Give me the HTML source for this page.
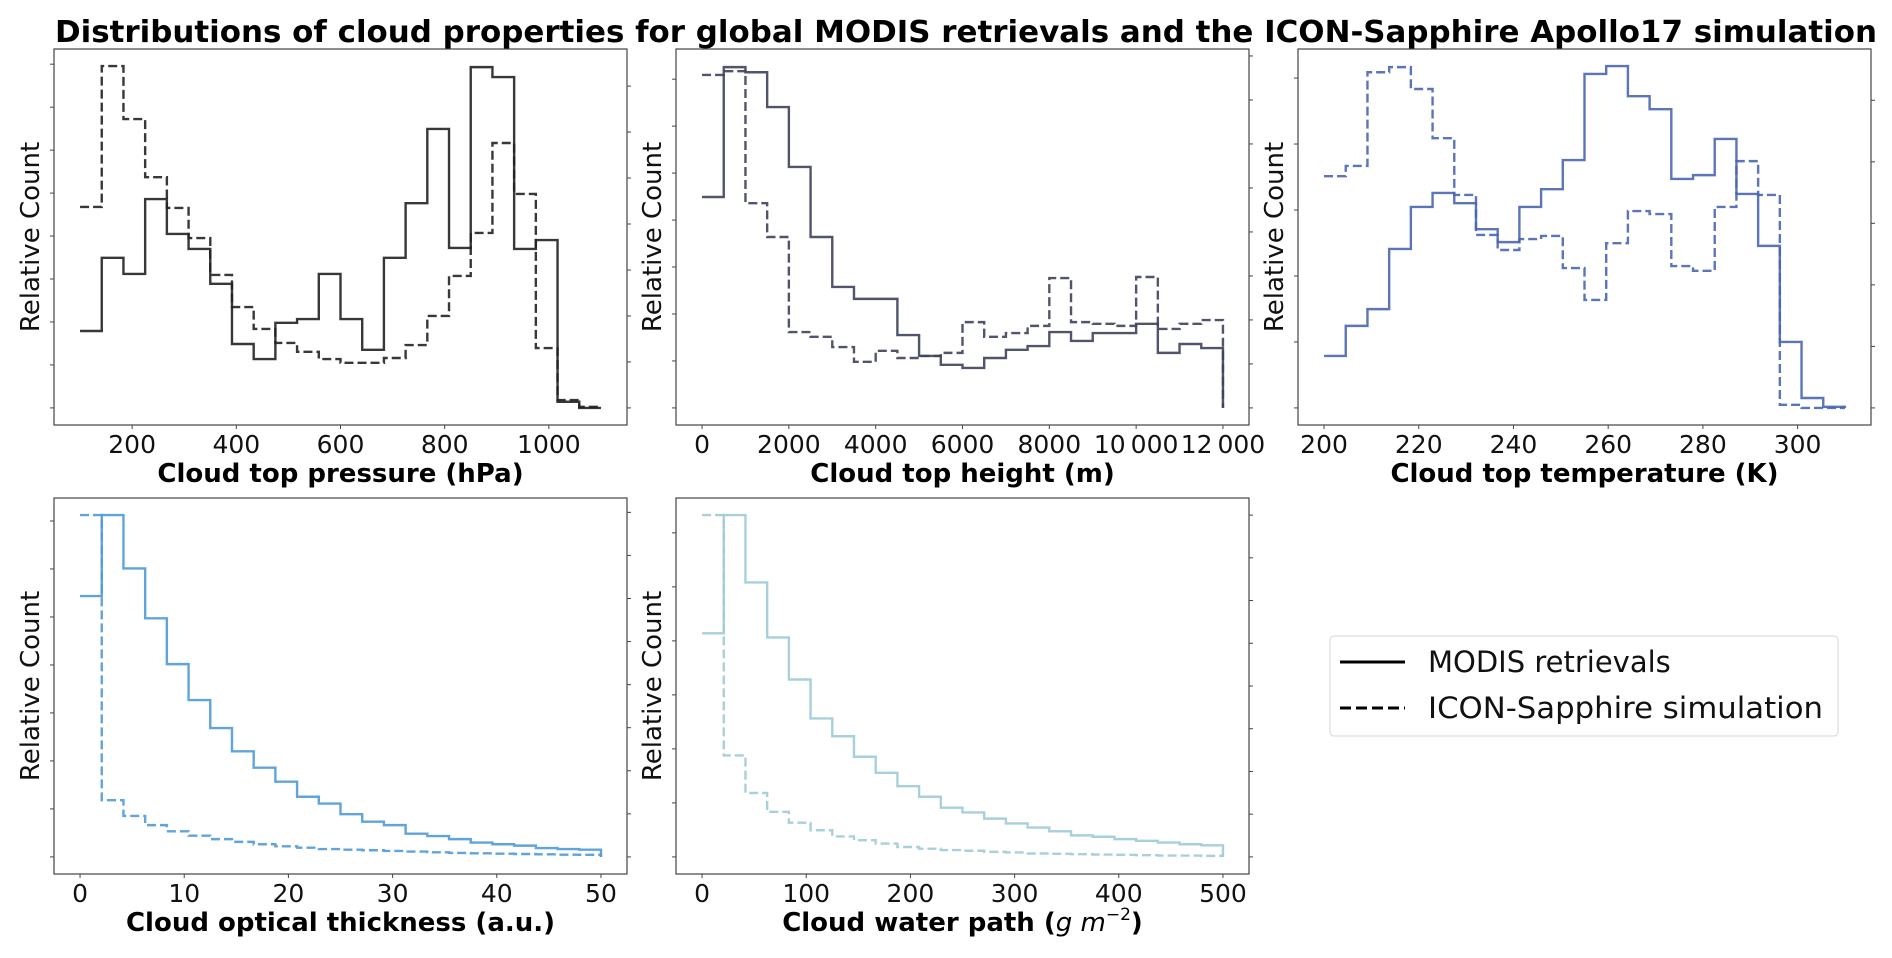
<!DOCTYPE html>
<html><head><meta charset="utf-8"><style>
html,body{margin:0;padding:0;background:#fff;}
svg{display:block;font-family:"DejaVu Sans","Liberation Sans",sans-serif;}
</style></head>
<body>
<svg id="fig" width="1892" height="958" viewBox="0 0 1892 958" xmlns="http://www.w3.org/2000/svg">
<text x="966" y="42" text-anchor="middle" font-size="30" font-weight="bold" textLength="1822" lengthAdjust="spacingAndGlyphs" fill="#000">Distributions of cloud properties for global MODIS retrievals and the ICON-Sapphire Apollo17 simulation</text>
<g>
<rect x="1330" y="636" width="508" height="100" rx="4" fill="#fff" stroke="#ddd" stroke-width="1.2"/>
<line x1="1340" y1="662" x2="1405" y2="662" stroke="#000" stroke-width="3"/>
<text x="1428" y="672" font-size="29" fill="#111">MODIS retrievals</text>
<line x1="1340" y1="708" x2="1405" y2="708" stroke="#000" stroke-width="3" stroke-dasharray="11,5"/>
<text x="1428" y="718" font-size="29" fill="#111" textLength="395" lengthAdjust="spacingAndGlyphs">ICON-Sapphire simulation</text>
</g>
</svg>
<script>
// ---- data (relative counts, 0-100, per histogram) ----
const ctpEdges = [100, 1100];
const ctpModis = [22.5,43.9,39.2,61.1,50.9,46.5,36.3,18.7,14.3,24.9,26.0,39.2,26.0,17.0,43.9,59.9,81.6,46.8,99.7,96.8,46.5,49.1,1.8,0];
const ctpIcon = [58.8,100,84.5,67.5,58.5,49.7,38.9,29.5,23.1,19.0,16.4,14.3,13.2,13.2,14.6,18.4,26.9,38.6,51.2,77.5,62.6,17.5,2.3,0.3];
const ctpTicks = [200,400,600,800,1000];

const cthEdges = [0, 12000];
const cthModis = [61.7,99.7,98.2,88.0,70.5,50.0,35.4,31.9,31.9,21.3,15.2,12.6,11.7,14.6,17.0,18.1,22.2,19.6,21.9,21.9,24.6,16.1,18.7,17.5];
const cthIcon = [97.4,98.5,59.9,50.0,22.2,20.8,17.8,13.5,16.7,14.6,15.2,16.1,25.1,20.8,21.9,24.0,38.0,25.1,24.6,24.0,38.3,23.1,24.6,25.7];
const cthTicks = [0,2000,4000,6000,8000,10000,12000];

const cttEdges = [200, 310];
const cttModis = [15.2,24.0,28.9,46.5,58.8,62.9,59.9,52.3,48.5,58.8,64.0,72.5,97.7,100,91.2,87.4,67.0,68.1,78.7,62.6,47.4,19.3,2.9,0.3];
const cttIcon = [67.8,70.8,98.2,99.7,93.3,78.9,62.3,50.6,46.2,49.4,50.3,40.9,31.6,48.2,57.6,56.7,41.5,40.1,58.8,72.2,62.3,0.9,0,0];
const cttTicks = [200,220,240,260,280,300];

const cotEdges = [0, 50];
const cotModis = [76.3,100,84.4,69.8,56.4,45.9,37.7,30.9,26.1,22.0,17.6,15.6,12.5,10.3,9.3,6.8,6.1,5.2,4.2,3.7,3.3,2.6,2.3,2.1];
const cotIcon = [100,16.6,12.0,9.3,7.5,6.2,5.2,4.4,3.7,3.1,2.7,2.3,2.1,1.95,1.75,1.55,1.35,1.15,1.05,0.95,0.85,0.75,0.65,0.6];
const cotTicks = [0,10,20,30,40,50];

const cwpEdges = [0, 500];
const cwpModis = [65.4,100,80.3,64.2,51.9,40.5,35.3,29.3,24.6,20.7,17.6,14.4,13.0,11.2,9.8,8.6,7.5,6.3,5.9,5.2,4.7,4.2,3.7,3.4];
const cwpIcon = [100,29.7,18.7,13.2,10.0,7.8,6.0,4.9,3.9,2.9,2.4,2.0,1.8,1.5,1.3,1.0,0.9,0.8,0.7,0.6,0.5,0.4,0.4,0.3];
const cwpTicks = [0,100,200,300,400,500];

// y tick spacing (relative units) for left and right axes
const leftTickSteps = [12.57, 13.74, 19.3, 14.04, 15.8];
const leftTickCounts = [9, 8, 6, 8, 7];
const rightTickSteps = [13.45, 12.87, 18.0, 12.6, 12.5];
const rightTickCounts = [8, 9, 6, 9, 9];

const NS = 'http://www.w3.org/2000/svg';
const svg = document.getElementById('fig');
function mk(tag, attrs, parent) {
  const e = document.createElementNS(NS, tag);
  for (const k in attrs) e.setAttribute(k, attrs[k]);
  (parent || svg).appendChild(e);
  return e;
}
const W = 573, H = 376;
function fmt(v) { return v >= 10000 ? String(v).replace(/(\d+)(\d{3})$/, '$1\u2009$2') : String(v); }

function panel(i, left, top, edges, modis, icon, ticks, color, xlabel, key) {
  const g = mk('g', {});
  
  
  const span = edges[1] - edges[0];
  const d0 = edges[0] - 0.05 * span, d1 = edges[1] + 0.05 * span;
  const X = v => left + (v - d0) / (d1 - d0) * W;
  const y0 = top + H - H * 0.05 / 1.1, yMax = top + H * 0.05 / 1.1;
  const Y = v => y0 - v / 100 * (y0 - yMax);
  const frame = mk('rect', {x: left, y: top, width: W, height: H, fill: 'none', stroke: '#444', 'stroke-width': 1.2}, g);
  
  
  for (let k = 0; k < leftTickCounts[i]; k++) {
    const yy = Y(k * leftTickSteps[i]);
    const t = mk('line', {x1: left - 4, x2: left, y1: yy, y2: yy, stroke: '#444', 'stroke-width': 1}, g);
    
    
  }
  for (let k = 0; k < rightTickCounts[i]; k++) {
    const yy = Y(k * rightTickSteps[i]);
    const t = mk('line', {x1: left + W, x2: left + W + 4, y1: yy, y2: yy, stroke: '#444', 'stroke-width': 1}, g);
    
    
  }
  ticks.forEach(v => {
    const xx = X(v);
    const t = mk('line', {x1: xx, x2: xx, y1: top + H, y2: top + H + 4, stroke: '#444', 'stroke-width': 1}, g);
    
    
    const lb = mk('text', {x: xx, y: top + H + 28, 'text-anchor': 'middle', 'font-size': 25, fill: '#111'}, g);
    lb.textContent = fmt(v);
    
    
  });
  const yl = mk('text', {x: 0, y: 0, transform: `translate(${left - 15},${top + H / 2}) rotate(-90)`, 'text-anchor': 'middle', 'font-size': 26, fill: '#111'}, g);
  yl.textContent = 'Relative Count';
  
  
  const xl = mk('text', {x: left + W / 2, y: top + H + 57, 'text-anchor': 'middle', 'font-size': 26, 'font-weight': 'bold', fill: '#000'}, g);
  if (typeof xlabel === 'string') xl.textContent = xlabel; else xl.innerHTML = xlabel.html;
  
  
  function step(vals, dashed, name) {
    const n = vals.length, bw = span / n;
    let d = `M${X(edges[0])},${Y(vals[0])}`;
    for (let k = 0; k < n; k++) {
      if (k > 0) d += ` V${Y(vals[k])}`;
      d += ` H${X(edges[0] + (k + 1) * bw)}`;
    }
    d += ` V${Y(0)}`;
    const p = mk('path', {d: d, fill: 'none', stroke: color, 'stroke-width': 2.4, 'stroke-opacity': 0.9}, g);
    if (dashed) p.setAttribute('stroke-dasharray', '9,4');
    
    
  }
  step(icon, true, key + '-icon-histogram');
  step(modis, false, key + '-modis-histogram');
}

panel(0, 54, 49, ctpEdges, ctpModis, ctpIcon, ctpTicks, '#222', 'Cloud top pressure (hPa)', 'cloud-top-pressure');
panel(1, 676, 49, cthEdges, cthModis, cthIcon, cthTicks, '#3e425c', 'Cloud top height (m)', 'cloud-top-height');
panel(2, 1298, 49, cttEdges, cttModis, cttIcon, cttTicks, '#4a66b0', 'Cloud top temperature (K)', 'cloud-top-temperature');
panel(3, 54, 498, cotEdges, cotModis, cotIcon, cotTicks, '#4f9ad6', 'Cloud optical thickness (a.u.)', 'cloud-optical-thickness');
panel(4, 676, 498, cwpEdges, cwpModis, cwpIcon, cwpTicks, '#9fcbd8', {html: 'Cloud water path (<tspan font-style="italic" font-weight="normal">g m</tspan><tspan font-weight="normal" font-size="17" dy="-11">−2</tspan><tspan dy="11">)</tspan>'}, 'cloud-water-path');
</script>
</body></html>
